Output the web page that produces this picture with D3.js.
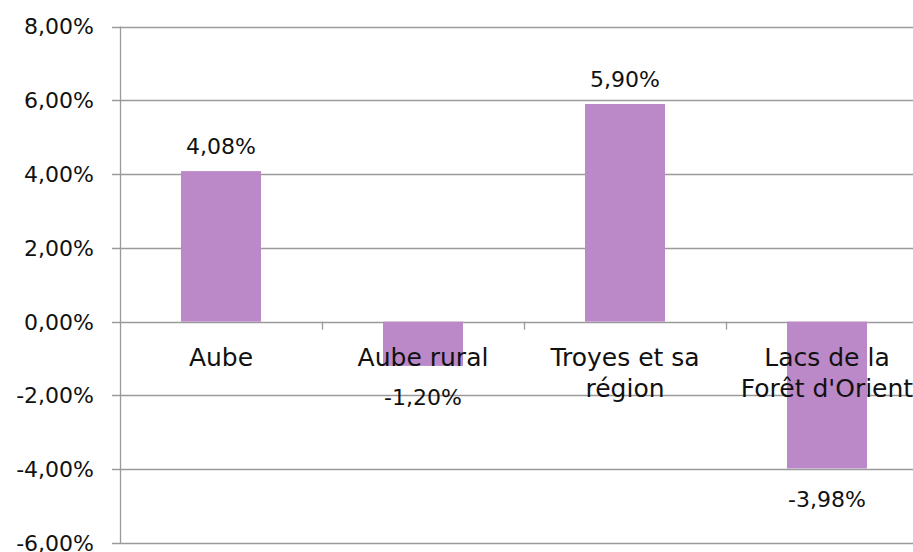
<!DOCTYPE html>
<html>
<head>
<meta charset="utf-8">
<script src="https://cdn.jsdelivr.net/npm/d3@7"></script>
<style>
  body { margin: 0; background: #fff; }
  svg { display: block; }
  text { font-family: "Century Gothic", "DejaVu Sans", sans-serif; fill: #111; }
</style>
</head>
<body>
<div id="chart"></div>
<script>
var categories = [["Aube"], ["Aube rural"], ["Troyes et sa", "région"], ["Lacs de la", "Forêt d'Orient"]];
var values = [4.08, -1.20, 5.90, -3.98];
var valueLabels = ["4,08%", "-1,20%", "5,90%", "-3,98%"];
var yTicks = [8, 6, 4, 2, 0, -2, -4, -6];
var yTickLabels = ["8,00%", "6,00%", "4,00%", "2,00%", "0,00%", "-2,00%", "-4,00%", "-6,00%"];

var drawBarChart = function(id) {
  var width = 913, height = 552;
  var left = 120, right = 928, top = 26.5, bottom = 543;

  var svg = d3.select(id).append("svg")
      .attr("width", width)
      .attr("height", height);

  var x = d3.scaleBand()
      .domain(d3.range(values.length))
      .range([left, right])
      .paddingInner(0.604)
      .paddingOuter(0.302);

  var y = d3.scaleLinear()
      .domain([-6, 8])
      .range([bottom, top]);

  // gridlines
  svg.append("g").selectAll("line")
      .data(yTicks)
    .enter().append("line")
      .attr("x1", left - 8)
      .attr("x2", width)
      .attr("y1", function(d) { return Math.round(y(d)) + 0.5; })
      .attr("y2", function(d) { return Math.round(y(d)) + 0.5; })
      .attr("stroke", "#9a9a9a")
      .attr("stroke-width", 1.3);

  // y axis line
  svg.append("line")
      .attr("x1", left + 0.5).attr("x2", left + 0.5)
      .attr("y1", top).attr("y2", bottom)
      .attr("stroke", "#9a9a9a")
      .attr("stroke-width", 1.3);

  svg.append("g").selectAll("text")
      .data(yTicks)
    .enter().append("text")
      .attr("x", 94)
      .attr("y", function(d) { return y(d); })
      .attr("dy", "0.36em")
      .attr("text-anchor", "end")
      .style("font-size", "22px")
      .text(function(d, i) { return yTickLabels[i]; });

  // bars
  svg.selectAll(".bar")
      .data(values)
    .enter().append("rect")
      .attr("class", "bar")
      .attr("x", function(d, i) { return x(i); })
      .attr("width", x.bandwidth())
      .attr("y", function(d) { return y(Math.max(0, d)); })
      .attr("height", function(d) { return Math.abs(y(d) - y(0)); })
      .attr("fill", "#bb88c8");

  // category ticks on zero line
  var step = x.step();
  svg.append("g").selectAll("line")
      .data(d3.range(1, values.length))
    .enter().append("line")
      .attr("x1", function(d) { return Math.round(left + d * step) + 0.5; })
      .attr("x2", function(d) { return Math.round(left + d * step) + 0.5; })
      .attr("y1", y(0))
      .attr("y2", y(0) + 8)
      .attr("stroke", "#9a9a9a")
      .attr("stroke-width", 1.3);

  // category labels
  var cat = svg.append("g").selectAll("text")
      .data(categories)
    .enter().append("text")
      .attr("text-anchor", "middle")
      .style("font-size", "25px");
  cat.selectAll("tspan")
      .data(function(d, i) { return d.map(function(t) { return {t: t, i: i}; }); })
    .enter().append("tspan")
      .attr("x", function(d) { return x(d.i) + x.bandwidth() / 2; })
      .attr("y", function(d, j) { return y(0) + 44 + j * 31; })
      .text(function(d) { return d.t; });

  // value labels
  svg.append("g").selectAll("text")
      .data(values)
    .enter().append("text")
      .attr("x", function(d, i) { return x(i) + x.bandwidth() / 2; })
      .attr("y", function(d) { return d >= 0 ? y(d) - 17 : y(d) + 39; })
      .attr("text-anchor", "middle")
      .style("font-size", "22px")
      .text(function(d, i) { return valueLabels[i]; });
};

drawBarChart("#chart");
</script>
</body>
</html>
